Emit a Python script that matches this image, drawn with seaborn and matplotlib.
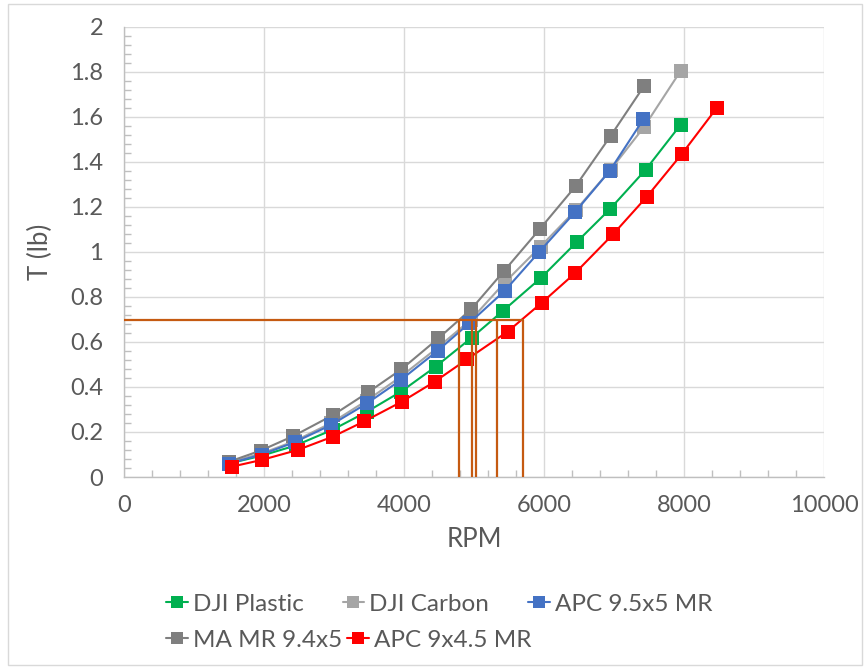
import matplotlib
matplotlib.use("Agg")
import matplotlib.pyplot as plt
from matplotlib.lines import Line2D
from matplotlib.patches import Rectangle
from matplotlib.ticker import MultipleLocator
import pandas as pd
import seaborn as sns

# Thrust (lb) versus RPM for each propeller
rpm_dji_plastic = [1500, 1970, 2450, 2980, 3470, 3960, 4450, 4970, 5420, 5960, 6470, 6940, 7450, 7950]
t_dji_plastic = [0.06, 0.095, 0.14, 0.21, 0.29, 0.38, 0.49, 0.62, 0.74, 0.886, 1.045, 1.19, 1.365, 1.565]

rpm_dji_carbon = [1500, 1970, 2440, 2960, 3470, 3950, 4480, 4960, 5440, 5950, 6450, 6950, 7430, 7950]
t_dji_carbon = [0.065, 0.105, 0.16, 0.24, 0.34, 0.445, 0.575, 0.70, 0.865, 1.024, 1.185, 1.365, 1.556, 1.804]

rpm_apc_95x5 = [1500, 1970, 2440, 2950, 3470, 3950, 4480, 4930, 5440, 5930, 6440, 6940, 7420]
t_apc_95x5 = [0.06, 0.10, 0.155, 0.23, 0.327, 0.43, 0.561, 0.683, 0.828, 1.0, 1.176, 1.361, 1.59]

rpm_ma_94x5 = [1500, 1950, 2420, 2990, 3490, 3960, 4490, 4960, 5430, 5940, 6450, 6950, 7430]
t_ma_94x5 = [0.068, 0.117, 0.182, 0.276, 0.377, 0.478, 0.616, 0.746, 0.916, 1.102, 1.292, 1.515, 1.738]

rpm_apc_9x45 = [1540, 1970, 2480, 2980, 3430, 3970, 4440, 4900, 5480, 5970, 6440, 6990, 7470, 7970, 8470]
t_apc_9x45 = [0.046, 0.076, 0.12, 0.179, 0.247, 0.335, 0.424, 0.523, 0.646, 0.775, 0.905, 1.08, 1.246, 1.436, 1.641]

series_names = ["DJI Plastic", "DJI Carbon", "APC 9.5x5 MR", "MA MR 9.4x5", "APC 9x4.5 MR"]
series_rpm = [rpm_dji_plastic, rpm_dji_carbon, rpm_apc_95x5, rpm_ma_94x5, rpm_apc_9x45]
series_thrust = [t_dji_plastic, t_dji_carbon, t_apc_95x5, t_ma_94x5, t_apc_9x45]
series_colors = ["#00B050", "#A5A5A5", "#4472C4", "#7F7F7F", "#FF0000"]

# RPM needed by each propeller to reach the target thrust
thrust_target = 0.7
rpm_at_target = [4790, 4970, 5025, 5335, 5705]

x_ticks = [0, 2000, 4000, 6000, 8000, 10000]
y_ticks = [0, 0.2, 0.4, 0.6, 0.8, 1.0, 1.2, 1.4, 1.6, 1.8, 2.0]
y_tick_labels = ["0", "0.2", "0.4", "0.6", "0.8", "1", "1.2", "1.4", "1.6", "1.8", "2"]

df = pd.concat(
    [pd.DataFrame({"RPM": r, "T": t, "Prop": n})
     for n, r, t in zip(series_names, series_rpm, series_thrust)],
    ignore_index=True,
)

sns.set_theme(style="white")
plt.rcParams["font.family"] = ["Lato", "DejaVu Sans"]

W, H = 865, 669
fig = plt.figure(figsize=(W / 100, H / 100), dpi=100)
ax = fig.add_axes([124 / W, 1 - 477 / H, 700 / W, 450 / H])

palette = dict(zip(series_names, series_colors))
draw_order = ["DJI Plastic", "DJI Carbon", "MA MR 9.4x5", "APC 9.5x5 MR", "APC 9x4.5 MR"]
sns.lineplot(
    data=df, x="RPM", y="T", hue="Prop", hue_order=draw_order, palette=palette,
    estimator=None, sort=False, marker="s", markersize=10, markeredgewidth=0,
    linewidth=1.5, legend=False, ax=ax, zorder=3,
)

# Target-thrust guide lines
guide = "#C55A11"
ax.plot([0, max(rpm_at_target)], [thrust_target, thrust_target], color=guide, lw=1.6, zorder=4)
for r in rpm_at_target:
    ax.plot([r, r], [0, thrust_target], color=guide, lw=1.6, zorder=4)

ax.set_xlim(0, 10000)
ax.set_ylim(0, 2)
ax.set_xticks(x_ticks)
ax.set_xticklabels([str(v) for v in x_ticks])
ax.set_yticks(y_ticks)
ax.set_yticklabels(y_tick_labels)
ax.xaxis.set_minor_locator(MultipleLocator(400))
ax.yaxis.set_minor_locator(MultipleLocator(0.04))

ax.grid(True, which="major", color="#D9D9D9", linewidth=1.0)
ax.set_axisbelow(True)
for s in ["top", "right"]:
    ax.spines[s].set_visible(False)
for s in ["left", "bottom"]:
    ax.spines[s].set_color("#BFBFBF")
    ax.spines[s].set_linewidth(1.0)

ax.tick_params(axis="both", which="major", direction="inout", length=14, width=1,
               color="#BFBFBF", labelsize=17, labelcolor="#595959")
ax.tick_params(axis="x", which="major", pad=6)
ax.tick_params(axis="y", which="major", pad=8)
ax.tick_params(axis="both", which="minor", direction="in", length=5, width=1,
               color="#BFBFBF", bottom=True, left=True)

ax.set_xlabel("RPM", fontsize=18.5, color="#595959", labelpad=8)
ax.set_ylabel("T (lb)", fontsize=18.5, color="#595959", labelpad=12)

# Two-row legend below the plot
def handle(c):
    return Line2D([], [], color=c, lw=1.5, marker="s", markersize=8.5, markeredgewidth=0)

leg_kw = dict(frameon=False, fontsize=17.5, handlelength=0.9, handletextpad=0.2,
              columnspacing=1.6, borderaxespad=0, borderpad=0, labelcolor="#595959")
row1 = fig.legend([handle(c) for c in series_colors[:3]], series_names[:3], ncol=3,
                  loc="center left", bbox_to_anchor=(166 / W, 1 - 604 / H), **leg_kw)
row2 = fig.legend([handle(c) for c in series_colors[3:]], series_names[3:], ncol=2,
                  loc="center left", bbox_to_anchor=(166 / W, 1 - 640 / H),
                  **{**leg_kw, "columnspacing": 0.2})

fig.patches.append(Rectangle((8 / W, 4 / H), 854 / W, 661 / H, transform=fig.transFigure,
                             fill=False, edgecolor="#D9D9D9", linewidth=1.0))

fig.savefig("out.png", dpi=100)
